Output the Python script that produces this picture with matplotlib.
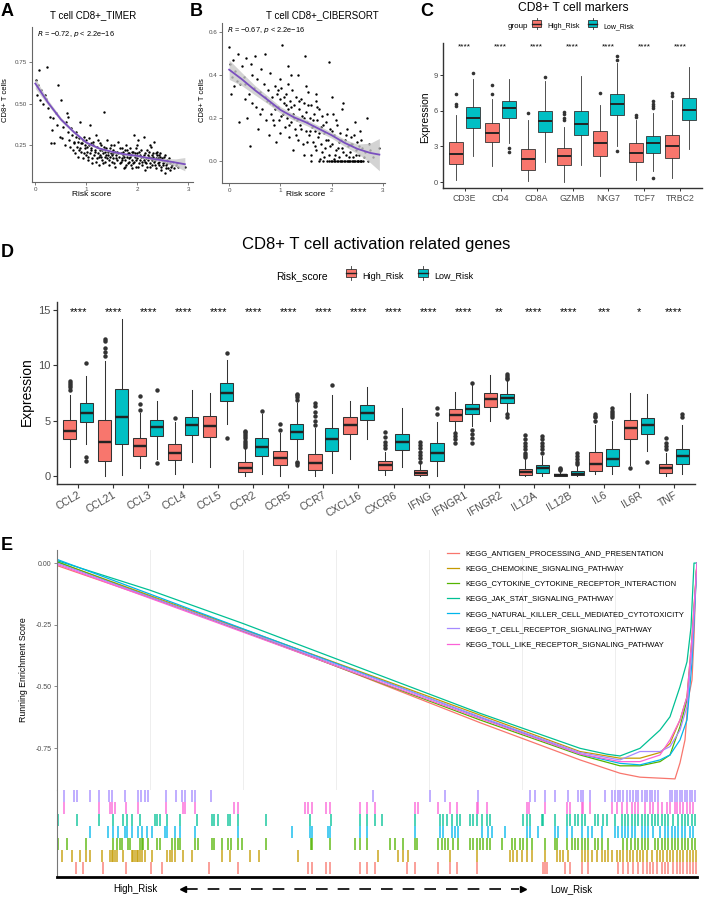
import numpy as np
import matplotlib
matplotlib.use('Agg')
import matplotlib.pyplot as plt
from matplotlib.lines import Line2D
from matplotlib.patches import Rectangle
from matplotlib.legend_handler import HandlerBase

plt.rcParams['font.family'] = ['Liberation Sans', 'DejaVu Sans']
plt.rcParams['axes.unicode_minus'] = False

# ------------------------------------------------------------------ DATA
# Panel A: TIMER CD8+ T cells vs risk score
A_POINTS = [(0.02,0.64),(0.05,0.61),(0.03,0.55),(0.08,0.70),(0.1,0.52),(0.12,0.58),(0.15,0.50),(0.18,0.55),
    (0.22,0.72),(0.2,0.53),(0.25,0.47),(0.28,0.42),(0.3,0.26),(0.33,0.34),(0.35,0.41),(0.37,0.26),(0.4,0.44),
    (0.42,0.37),(0.45,0.61),(0.48,0.30),(0.5,0.52),(0.52,0.29),(0.55,0.36),(0.58,0.25),(0.6,0.39),(0.62,0.44),
    (0.64,0.42),(0.66,0.28),(0.68,0.24),(0.7,0.35),(0.72,0.31),(0.74,0.22),(0.76,0.27),(0.78,0.20),(0.8,0.33),
    (0.82,0.24),(0.84,0.18),(0.86,0.29),(0.88,0.39),(0.9,0.21),(0.92,0.26),(0.94,0.17),(0.95,0.30),(0.97,0.23),
    (0.99,0.19),(1.0,0.28),(1.02,0.21),(1.03,0.16),(1.05,0.25),(1.07,0.37),(1.08,0.20),(1.1,0.23),(1.11,0.14),
    (1.13,0.27),(1.15,0.19),(1.16,0.22),(1.18,0.31),(1.2,0.17),(1.21,0.24),(1.23,0.20),(1.25,0.13),(1.26,0.26),
    (1.28,0.18),(1.3,0.22),(1.31,0.16),(1.33,0.20),(1.34,0.45),(1.35,0.24),(1.37,0.15),(1.38,0.19),(1.4,0.28),
    (1.41,0.17),(1.43,0.21),(1.44,0.13),(1.46,0.23),(1.47,0.18),(1.49,0.20),(1.5,0.15),(1.52,0.22),(1.53,0.17),
    (1.55,0.25),(1.56,0.12),(1.58,0.19),(1.6,0.21),(1.61,0.16),(1.63,0.27),(1.64,0.18),(1.66,0.14),(1.67,0.20),
    (1.69,0.23),(1.7,0.17),(1.72,0.19),(1.73,0.11),(1.75,0.22),(1.76,0.16),(1.78,0.25),(1.79,0.18),(1.81,0.14),
    (1.82,0.20),(1.84,0.17),(1.85,0.23),(1.87,0.13),(1.88,0.19),(1.9,0.16),(1.91,0.21),(1.93,0.31),(1.94,0.15),
    (1.96,0.18),(1.97,0.12),(1.99,0.20),(2.0,0.17),(2.02,0.28),(2.03,0.14),(2.05,0.19),(2.06,0.16),(2.08,0.22),
    (2.09,0.13),(2.11,0.18),(2.12,0.30),(2.14,0.15),(2.15,0.20),(2.17,0.17),(2.18,0.12),(2.2,0.19),(2.21,0.16),
    (2.23,0.21),(2.24,0.14),(2.26,0.17),(2.27,0.24),(2.29,0.13),(2.3,0.18),(2.32,0.15),(2.33,0.27),(2.35,0.16),
    (2.36,0.11),(2.38,0.19),(2.4,0.14),(2.41,0.17),(2.43,0.13),(2.45,0.20),(2.46,0.12),(2.48,0.16),(2.5,0.14),
    (2.52,0.18),(2.54,0.08),(2.56,0.13),(2.58,0.16),(2.6,0.11),(2.63,0.14),(2.66,0.12),(2.7,0.15),(2.75,0.13),
    (2.8,0.12),(2.93,0.12),
    (0.85,0.22),(0.9,0.26),(0.96,0.20),(1.01,0.24),(1.04,0.18),(1.06,0.29),(1.09,0.22),(1.12,0.17),(1.14,0.25),
    (1.17,0.21),(1.19,0.15),(1.22,0.28),(1.24,0.18),(1.27,0.22),(1.29,0.25),(1.32,0.14),(1.36,0.21),(1.39,0.23),
    (1.42,0.19),(1.45,0.16),(1.48,0.25),(1.51,0.19),(1.54,0.14),(1.57,0.21),(1.59,0.17),(1.62,0.20),(1.65,0.23),
    (1.68,0.15),(1.71,0.21),(1.74,0.18),(1.77,0.13),(1.8,0.22),(1.83,0.15),(1.86,0.18),(1.89,0.21),(1.92,0.14),
    (1.95,0.20),(1.98,0.16),(2.01,0.12),(2.04,0.21),(2.07,0.18),(2.1,0.15),(2.13,0.19),(2.16,0.14),(2.19,0.22),
    (2.22,0.18),(2.25,0.12),(2.28,0.16),(2.31,0.20),(2.34,0.13),(2.37,0.17),(2.39,0.21),(2.42,0.15),(2.44,0.18),
    (2.47,0.10),(2.49,0.17),(2.51,0.13),(2.53,0.15),(2.55,0.19),(2.57,0.11),(2.59,0.14),(2.62,0.17),(2.64,0.10),
    (2.68,0.13),(2.72,0.11),(2.78,0.14),(0.65,0.33),(0.75,0.26),(0.79,0.30),(0.83,0.27),(0.87,0.23),(0.93,0.28),
    (0.98,0.25),(1.36,0.18),(1.53,0.20),(1.69,0.16),(1.84,0.20),(1.98,0.23),(2.13,0.16),(2.28,0.19),(2.42,0.19),
    (1.26,0.19),(1.1,0.26),(2.36,0.2),(2.0,0.25),(2.24,0.25),(1.75,0.12),(1.9,0.11),(2.15,0.10)]
A_FIT_X = [0, 0.25, 0.5, 0.75, 1.0, 1.25, 1.5, 1.75, 2.0, 2.25, 2.5, 2.75, 2.93]
A_FIT_Y = [0.62, 0.505, 0.405, 0.33, 0.265, 0.23, 0.21, 0.195, 0.185, 0.17, 0.158, 0.145, 0.135]
A_FIT_SE = [0.03, 0.016, 0.012, 0.01, 0.008, 0.007, 0.007, 0.007, 0.007, 0.008, 0.011, 0.022, 0.04]
A_STAT = "$R$ = \u22120.72, $p$ < 2.2e\u221216"

# Panel B: CIBERSORT CD8+ T cells vs risk score
B_POINTS = [(0.0,0.53),(0.02,0.45),(0.03,0.31),(0.05,0.39),(0.07,0.47),(0.1,0.35),(0.12,0.42),(0.15,0.37),
    (0.18,0.50),(0.2,0.18),(0.22,0.36),(0.25,0.44),(0.28,0.39),(0.3,0.29),(0.33,0.48),(0.35,0.20),(0.38,0.31),
    (0.4,0.07),(0.42,0.45),(0.45,0.27),(0.48,0.34),(0.5,0.49),(0.52,0.25),(0.55,0.38),(0.57,0.15),(0.6,0.32),
    (0.62,0.43),(0.65,0.24),(0.67,0.36),(0.7,0.50),(0.72,0.19),(0.74,0.28),(0.76,0.33),(0.78,0.12),(0.8,0.41),
    (0.82,0.22),(0.84,0.30),(0.86,0.26),(0.88,0.17),(0.9,0.35),(0.92,0.09),(0.94,0.31),(0.95,0.25),(0.97,0.19),
    (0.99,0.29),(1.0,0.13),(1.02,0.34),(1.04,0.54),(1.05,0.22),(1.07,0.27),(1.09,0.16),(1.1,0.31),(1.12,0.20),
    (1.14,0.36),(1.15,0.24),(1.17,0.11),(1.19,0.28),(1.2,0.18),(1.22,0.33),(1.24,0.22),(1.25,0.05),(1.27,0.26),
    (1.29,0.15),(1.3,0.30),(1.32,0.19),(1.34,0.40),(1.35,0.10),(1.37,0.24),(1.39,0.17),(1.4,0.29),(1.42,0.21),
    (1.44,0.08),(1.45,0.27),(1.47,0.49),(1.49,0.14),(1.5,0.23),(1.52,0.18),(1.54,0.32),(1.55,0.12),(1.57,0.20),
    (1.59,0.03),(1.6,0.26),(1.62,0.16),(1.64,0.09),(1.65,0.22),(1.67,0.14),(1.69,0.31),(1.7,0.05),(1.72,0.19),
    (1.74,0.11),(1.75,0.24),(1.77,0.01),(1.79,0.16),(1.8,0.08),(1.82,0.21),(1.84,0.0),(1.85,0.13),(1.87,0.06),
    (1.89,0.18),(1.9,0.0),(1.92,0.10),(1.94,0.46),(1.95,0.03),(1.97,0.15),(1.99,0.0),(2.0,0.08),(2.02,0.22),
    (2.04,0.01),(2.05,0.12),(2.07,0.0),(2.09,0.05),(2.1,0.17),(2.12,0.0),(2.14,0.09),(2.15,0.02),(2.17,0.13),
    (2.19,0.0),(2.2,0.06),(2.22,0.27),(2.24,0.0),(2.25,0.10),(2.27,0.03),(2.29,0.0),(2.3,0.15),(2.32,0.07),
    (2.34,0.0),(2.35,0.04),(2.37,0.11),(2.39,0.0),(2.4,0.08),(2.42,0.02),(2.44,0.0),(2.45,0.18),(2.47,0.05),
    (2.49,0.0),(2.5,0.09),(2.52,0.0),(2.54,0.03),(2.55,0.14),(2.57,0.0),(2.6,0.06),(2.62,0.0),(2.65,0.04),
    (2.68,0.20),(2.7,0.0),(2.75,0.05),(2.8,0.02),(2.93,0.06),(1.95,0.0),(2.0,0.0),(2.05,0.0),(2.1,0.0),
    (2.16,0.0),(2.21,0.0),(2.26,0.0),(2.31,0.0),(2.36,0.0),(2.41,0.0),(2.46,0.0),(2.51,0.0),(2.56,0.0),(2.58,0.0),
    (0.3,0.36),(0.45,0.40),(0.6,0.22),(0.7,0.30),(0.8,0.27),(0.85,0.19),(0.9,0.24),(0.96,0.33),(1.01,0.21),
    (1.06,0.30),(1.11,0.26),(1.16,0.17),(1.21,0.25),(1.26,0.20),(1.31,0.12),(1.36,0.28),(1.41,0.15),(1.46,0.20),
    (1.51,0.09),(1.53,0.26),(1.58,0.14),(1.63,0.19),(1.68,0.07),(1.71,0.25),(1.76,0.13),(1.81,0.04),(1.83,0.17),
    (1.88,0.10),(1.91,0.22),(1.96,0.07),(2.01,0.14),(2.06,0.03),(2.08,0.19),(2.13,0.06),(2.18,0.10),(2.23,0.04),
    (2.28,0.12),(2.33,0.02),(2.38,0.08),(2.43,0.12),(2.48,0.03),(2.53,0.07),(2.58,0.10),(2.63,0.02),(2.72,0.08),
    (1.2,0.40),(1.5,0.35),(1.0,0.38),(1.7,0.28),(2.0,0.30),(2.2,0.24),(1.15,0.44),(1.45,0.03),(1.6,0.0),
    (1.75,0.0),(1.85,0.02)]
B_FIT_X = [0, 0.25, 0.5, 0.75, 1.0, 1.25, 1.5, 1.75, 2.0, 2.25, 2.5, 2.75, 2.93]
B_FIT_Y = [0.425, 0.38, 0.33, 0.285, 0.238, 0.205, 0.18, 0.15, 0.12, 0.085, 0.057, 0.038, 0.03]
B_FIT_SE = [0.045, 0.03, 0.022, 0.018, 0.015, 0.014, 0.014, 0.014, 0.014, 0.016, 0.022, 0.045, 0.075]
B_STAT = "$R$ = \u22120.67, $p$ < 2.2e\u221216"

# Panel C: CD8+ T cell markers (whislo, q1, median, q3, whishi, outliers)
C_GENES = ['CD3E', 'CD4', 'CD8A', 'GZMB', 'NKG7', 'TCF7', 'TRBC2']
C_HIGH = [(0.2, 1.53, 2.35, 3.35, 5.6, [6.4, 6.6, 7.4]),
          (1.33, 3.36, 4.15, 4.95, 7.0, [7.4, 8.2]),
          (0.1, 1.03, 1.9, 2.78, 5.2, [5.8]),
          (0.0, 1.44, 2.2, 2.9, 4.6, [5.2, 5.4, 5.7, 5.9]),
          (0.5, 2.2, 3.3, 4.3, 6.5, [7.5]),
          (0.2, 1.67, 2.45, 3.25, 5.2, [5.5, 5.65]),
          (0.3, 2.0, 3.0, 4.0, 6.9, [7.2, 7.5])]
C_LOW = [(2.2, 4.53, 5.4, 6.35, 8.7, [9.2]),
         (3.3, 5.36, 6.25, 6.86, 8.7, [2.5, 2.9]),
         (1.7, 4.2, 5.1, 6.0, 8.5, [8.85]),
         (1.4, 3.94, 4.9, 6.0, 8.9, []),
         (3.0, 5.6, 6.6, 7.4, 10.0, [2.6, 10.3, 10.6]),
         (0.9, 2.44, 3.25, 3.9, 5.8, [0.3, 6.2, 6.4, 6.6, 6.85]),
         (2.8, 5.2, 6.1, 7.1, 9.7, [])]
C_SIG = ['****'] * 7

# Panel D: CD8+ T cell activation related genes
D_GENES = ['CCL2', 'CCL21', 'CCL3', 'CCL4', 'CCL5', 'CCR2', 'CCR5', 'CCR7', 'CXCL16', 'CXCR6',
           'IFNG', 'IFNGR1', 'IFNGR2', 'IL12A', 'IL12B', 'IL6', 'IL6R', 'TNF']
D_HIGH = [(0.8, 3.37, 4.04, 5.03, 7.3, [7.8, 8.0, 8.2, 8.4, 8.6]),
          (0.0, 1.36, 3.1, 5.03, 10.4, [10.8, 11.2, 11.6, 12.2, 12.4]),
          (0.75, 1.8, 2.7, 3.43, 5.7, [6.0, 6.5, 7.2]),
          (0.15, 1.41, 2.1, 2.92, 4.9, [5.25]),
          (0.8, 3.52, 4.55, 5.4, 7.5, []),
          (0.0, 0.36, 0.7, 1.3, 2.4, [2.6, 2.8, 3.0, 3.2, 3.4, 3.6, 3.8, 4.0, 4.1]),
          (0.0, 0.96, 1.65, 2.26, 3.9, [4.2, 4.7]),
          (0.0, 0.57, 1.2, 2.0, 4.3, [4.6, 5.0, 5.4, 5.8, 6.3, 6.6]),
          (1.5, 3.77, 4.6, 5.33, 6.8, []),
          (0.1, 0.57, 0.96, 1.36, 2.2, [2.5, 2.8, 3.1, 3.5, 4.0]),
          (0.0, 0.06, 0.25, 0.5, 1.1, [1.3, 1.6, 1.9, 2.2, 2.5, 2.8, 3.1]),
          (4.1, 4.97, 5.48, 6.05, 7.6, [3.0, 3.3, 3.6, 3.9]),
          (5.0, 6.23, 6.99, 7.5, 9.1, []),
          (0.0, 0.06, 0.36, 0.66, 1.5, [1.7, 1.9, 2.1, 2.4, 2.7, 3.0, 3.3, 3.7]),
          (0.0, 0.0, 0.1, 0.2, 0.4, [0.5, 0.6, 0.7]),
          (0.2, 0.45, 1.05, 2.2, 4.6, [5.0, 5.3, 5.45, 5.6]),
          (1.0, 3.37, 4.34, 5.09, 7.5, [0.7]),
          (0.0, 0.27, 0.72, 1.05, 2.1, [2.4, 2.7, 3.0, 3.4])]
D_LOW = [(2.9, 4.85, 5.65, 6.6, 9.0, [1.4, 1.7, 10.2]),
         (0.1, 2.86, 5.35, 7.9, 14.2, []),
         (1.5, 3.6, 4.4, 5.03, 6.8, [1.15, 7.8]),
         (1.3, 3.67, 4.6, 5.33, 7.8, []),
         (4.7, 6.75, 7.5, 8.4, 10.5, [3.4, 11.1]),
         (0.2, 1.84, 2.6, 3.43, 5.6, [5.9]),
         (1.5, 3.37, 4.0, 4.73, 6.6, [1.0, 1.15, 1.3, 6.9, 7.1, 7.3, 7.4]),
         (0.3, 2.3, 3.3, 4.37, 7.3, [8.2]),
         (3.37, 5.03, 5.72, 6.39, 8.0, []),
         (0.8, 2.32, 3.07, 3.77, 6.1, []),
         (0.0, 1.36, 2.1, 3.0, 4.9, [5.6, 6.1]),
         (4.5, 5.63, 6.02, 6.48, 8.2, [3.0, 3.4, 3.8, 4.2, 8.4]),
         (5.8, 6.63, 7.05, 7.44, 8.6, [5.3, 5.6, 8.75, 8.9, 9.05, 9.2]),
         (0.0, 0.3, 0.72, 1.02, 1.8, [2.1, 2.4, 2.7, 3.0, 3.3, 3.6]),
         (0.0, 0.06, 0.2, 0.42, 0.9, [1.1, 1.3, 1.5, 1.8, 2.1]),
         (0.2, 0.87, 1.5, 2.4, 5.0, [5.3, 5.5, 5.7, 5.9, 6.1]),
         (2.3, 3.77, 4.64, 5.27, 7.4, [1.3]),
         (0.2, 1.11, 1.78, 2.47, 4.6, [5.3, 5.6])]
D_SIG = ['****'] * 12 + ['**', '****', '****', '***', '*', '****']

# Panel E: GSEA running enrichment scores (rank, ES) and hit ranks
N_GENES = 32000
PATHWAYS = ['KEGG_ANTIGEN_PROCESSING_AND_PRESENTATION', 'KEGG_CHEMOKINE_SIGNALING_PATHWAY',
            'KEGG_CYTOKINE_CYTOKINE_RECEPTOR_INTERACTION', 'KEGG_JAK_STAT_SIGNALING_PATHWAY',
            'KEGG_NATURAL_KILLER_CELL_MEDIATED_CYTOTOXICITY', 'KEGG_T_CELL_RECEPTOR_SIGNALING_PATHWAY',
            'KEGG_TOLL_LIKE_RECEPTOR_SIGNALING_PATHWAY']
ES_ANTIGEN = [(0, -0.01), (4650, -0.14), (9300, -0.27), (21150, -0.647), (26150, -0.798), (28150, -0.852),
              (29150, -0.868), (30150, -0.872), (30900, -0.875), (31150, -0.81), (31400, -0.717),
              (31550, -0.555), (31750, -0.474), (31850, -0.30), (31950, -0.05), (32000, 0.0)]
ES_CHEMOKINE = [(0, 0.005), (21150, -0.616), (26150, -0.764), (28150, -0.791), (29150, -0.791),
                (30150, -0.768), (30650, -0.731), (31150, -0.636), (31500, -0.542), (31750, -0.30), (32000, 0.0)]
ES_CYTOKINE = [(0, 0.005), (21150, -0.636), (26150, -0.778), (28150, -0.822), (29150, -0.822),
               (30150, -0.805), (30650, -0.778), (31150, -0.663), (31500, -0.555), (31750, -0.33), (32000, 0.0)]
ES_JAKSTAT = [(0, 0.01), (4650, -0.11), (9300, -0.245), (21150, -0.609), (26150, -0.751), (27500, -0.775),
              (28150, -0.782), (29150, -0.751), (30150, -0.677), (30650, -0.623), (31150, -0.501),
              (31500, -0.40), (31700, -0.26), (31850, 0.0), (32000, 0.0)]
ES_NK = [(0, 0.015), (21150, -0.625), (26150, -0.774), (28150, -0.812), (29150, -0.818), (30150, -0.798),
         (30650, -0.778), (31150, -0.717), (31500, -0.636), (31750, -0.40), (32000, 0.0)]
ES_TCR = [(0, 0.0), (21150, -0.623), (26150, -0.768), (28150, -0.798), (29150, -0.764), (30150, -0.764),
          (30650, -0.744), (31150, -0.677), (31500, -0.582), (31750, -0.35), (32000, 0.0)]
ES_TOLL = [(0, -0.005), (21150, -0.63), (26150, -0.774), (28150, -0.805), (29150, -0.805), (30150, -0.778),
           (30650, -0.717), (31150, -0.636), (31500, -0.542), (31750, -0.30), (32000, 0.0)]

HITS_ANTIGEN = [950, 1300, 2300, 3450, 4700, 5250, 7600, 9050, 12550, 12750, 13450, 13650, 15150, 15500, 15900,
    17500, 17900, 19050, 19650, 20000, 21000, 24300, 24400, 24500, 25400, 25650, 26250, 26550, 28050, 28300,
    28550, 28800, 29050, 29300, 29500, 29650, 29800, 30000, 30250, 30400, 30550, 30800, 31000, 31150, 31300,
    31500, 31650, 31800, 31950]
HITS_CHEMOKINE = [0, 250, 750, 1150, 1450, 1650, 2250, 2650, 2750, 2800, 2900, 3000, 3300, 3750, 3800, 3900,
    4000, 4050, 4150, 4250, 4400, 4750, 5500, 5650, 5750, 5900, 6300, 6750, 8250, 8650, 9650, 10100, 12050,
    16050, 17050, 17300, 17550, 19650, 21000, 22650, 22800, 23000, 23250, 23500, 23750, 24400, 25000, 25150,
    25300, 25550, 26250, 26400, 26550, 26750, 27000, 27250, 27400, 27550, 27750, 28000, 28150, 28300, 28500,
    28650, 28800, 29000, 29150, 29300, 29500, 29750, 30000, 30150, 30300, 30500, 30650, 30800, 31000, 31150,
    31300, 31500, 31650, 31800, 31950]
HITS_CYTOKINE = [50, 500, 1450, 2800, 3000, 3150, 3250, 3550, 3650, 4150, 4250, 4300, 4550, 5000, 5150, 5750,
    5900, 6050, 6150, 6900, 7050, 7750, 7850, 8250, 8550, 8700, 9050, 9250, 10450, 12700, 12750, 13650, 14900,
    15150, 15500, 16650, 16900, 17300, 17900, 18000, 19050, 19250, 19400, 19550, 19800, 20050, 20650, 20800,
    21000, 21150, 21300, 21500, 21650, 22250, 22750, 22900, 23150, 23300, 23500, 23750, 24400, 24900, 25000,
    25500, 25750, 25900, 26050, 26250, 26400, 26550, 26900, 27050, 27250, 27550, 28300, 28500, 28700, 28900,
    29050, 29250, 29400, 29550, 29900, 30050, 30250, 30400, 30550, 30750, 30900, 31050, 31250, 31400, 31550,
    31750, 31900]
HITS_JAKSTAT = [50, 1000, 2100, 2800, 3300, 3500, 3750, 4150, 4900, 5000, 5150, 5500, 6150, 7000, 7750, 7850,
    8050, 8550, 8650, 9050, 10450, 12650, 13700, 15150, 15500, 15900, 16250, 17900, 19150, 19300, 19500, 19750,
    20000, 20150, 20650, 20800, 21000, 21250, 21500, 21650, 23300, 23500, 23650, 24250, 24300, 24900, 25500,
    25650, 25900, 26050, 26250, 26400, 26900, 27050, 27300, 27500, 27900, 28250, 28400, 28550, 28750, 28900,
    29050, 29250, 29400, 29550, 29750, 29900, 30050, 30250, 30400, 30550, 30800, 31050, 31250, 31400, 31550,
    31750, 31900]
HITS_NK = [0, 1650, 2550, 2800, 3050, 3400, 3500, 3750, 4050, 4250, 4500, 4750, 5400, 5500, 5900, 6150, 6900,
    9050, 11750, 12650, 12750, 13550, 13650, 15150, 15500, 17900, 19150, 19300, 19750, 19900, 20050, 21250,
    21550, 21750, 22400, 23500, 23650, 24050, 24900, 25050, 25500, 25750, 26250, 26550, 26750, 27250, 27900,
    28050, 28250, 28400, 28550, 28750, 28900, 29250, 29400, 29550, 29800, 30150, 30400, 30550, 30750, 30900,
    31050, 31250, 31400, 31650, 31800]
HITS_TCR = [350, 850, 1000, 1650, 2100, 2600, 2750, 3400, 4050, 4200, 4400, 4550, 5450, 5950, 6250, 6400, 6750,
    6900, 7700, 15800, 18650, 19400, 21050, 23650, 23900, 24400, 24900, 25550, 26050, 26200, 26300, 26650,
    27400, 27750, 27900, 28050, 28150, 28300, 28500, 28650, 28800, 28950, 29050, 29250, 29400, 29500, 29650,
    29750, 29900, 30050, 30650, 30750, 30900, 31000, 31150, 31250, 31400, 31500, 31650, 31750, 31900]
HITS_TOLL = [350, 2100, 2650, 2750, 2900, 3450, 4050, 5450, 6300, 6400, 6900, 8850, 9050, 12400, 12550, 12750,
    13450, 13650, 15150, 15500, 15900, 17900, 18050, 19050, 19650, 20000, 21000, 21050, 21500, 23500, 23600,
    24400, 25500, 25650, 26250, 26300, 26650, 27750, 28000, 28250, 28500, 28750, 28900, 29050, 29400, 29650,
    29800, 30050, 30250, 30500, 30650, 30900, 31000, 31150, 31300, 31500, 31650, 31800]

# ------------------------------------------------------------------ STYLE / LAYOUT
RED, TEAL = '#F8766D', '#00BFC4'
PATH_COLORS = ['#F8766D', '#C49A00', '#53B400', '#00C094', '#00B6EB', '#A58AFF', '#FB61D7']
GREY = '#4D4D4D'
W, H = 705, 897
fig = plt.figure(figsize=(W / 100, H / 100), dpi=100)


def add_ax(l, t, r, b):
    return fig.add_axes([l / W, 1 - b / H, (r - l) / W, (b - t) / H])


def ftext(x, y, s, **kw):
    kw.setdefault('va', 'center')
    fig.text(x / W, 1 - y / H, s, **kw)


class BoxKey(HandlerBase):
    def create_artists(self, legend, orig, xd, yd, w, h, fontsize, trans):
        col = orig.get_facecolor()
        x0, x1 = xd + 0.08 * w, xd + 0.92 * w
        arts = [Rectangle((x0, yd), x1 - x0, h, facecolor=col, edgecolor='#333333', lw=0.6, transform=trans),
                Line2D([x0, x1], [yd + h / 2] * 2, color='#222222', lw=1.0, transform=trans),
                Line2D([xd + w / 2] * 2, [yd + h, yd + h * 1.3], color='#333333', lw=0.6, transform=trans),
                Line2D([xd + w / 2] * 2, [yd, yd - h * 0.3], color='#333333', lw=0.6, transform=trans)]
        return arts


def scatter_panel(ax, pts, fx, fy, fse, stat, xlim, ylim, yticks, ylabels):
    x = [p[0] for p in pts]
    y = [p[1] for p in pts]
    ax.scatter(x, y, s=3.0, color='black', linewidths=0, zorder=2)
    fx, fy, fse = np.array(fx), np.array(fy), np.array(fse)
    ax.fill_between(fx, fy - fse, fy + fse, color='#C8C8C8', alpha=0.8, lw=0, zorder=3)
    ax.plot(fx, fy, color='#7A4FBF', lw=1.3, zorder=4)
    ax.set_xlim(*xlim)
    ax.set_ylim(*ylim)
    ax.set_xticks([0, 1, 2, 3])
    ax.set_yticks(yticks)
    ax.set_yticklabels(ylabels)
    for s in ['top', 'right']:
        ax.spines[s].set_visible(False)
    for s in ['left', 'bottom']:
        ax.spines[s].set_color('#666666')
        ax.spines[s].set_linewidth(0.8)
    ax.tick_params(labelsize=4.5, labelcolor=GREY, color='#666666', length=2, width=0.6, pad=1.5)
    ax.text(0.03, 0.955, stat, transform=ax.transAxes, fontsize=5.3, ha='left', va='center')


def box_panel(ax, genes, high, low, ms, lw):
    n = len(genes)
    for stats, off, col in ((high, -0.24, RED), (low, 0.24, TEAL)):
        st = [dict(whislo=s[0], q1=s[1], med=s[2], q3=s[3], whishi=s[4], fliers=s[5]) for s in stats]
        ax.bxp(st, positions=np.arange(n) + off, widths=0.38, patch_artist=True, showcaps=False,
               boxprops=dict(facecolor=col, edgecolor='#333333', linewidth=lw),
               medianprops=dict(color='#222222', linewidth=lw * 2.3),
               whiskerprops=dict(color='#333333', linewidth=lw),
               flierprops=dict(marker='o', markerfacecolor='#333333', markeredgecolor='none', markersize=ms),
               manage_ticks=False)
    ax.set_xlim(-0.6, n - 0.4)
    ax.set_xticks(np.arange(n))
    ax.set_xticklabels(genes)
    for s in ['top', 'right']:
        ax.spines[s].set_visible(False)
    for s in ['left', 'bottom']:
        ax.spines[s].set_color('#333333')
        ax.spines[s].set_linewidth(1.0)


# ------------------------------------------------------------------ PANEL A
axA = add_ax(32, 27, 193, 182)
scatter_panel(axA, A_POINTS, A_FIT_X, A_FIT_Y, A_FIT_SE, A_STAT, (-0.065, 3.09), (0.028, 0.96),
              [0.25, 0.5, 0.75], ['0.25', '0.50', '0.75'])
ftext(93, 15, 'T cell CD8+_TIMER', fontsize=7, ha='center')
ftext(92, 195, 'Risk score', fontsize=6, ha='center')
ftext(6, 100, 'CD8+ T cells', fontsize=5.5, ha='center', rotation=90)
ftext(1, 12, 'A', fontsize=13, fontweight='bold', ha='left')

# ------------------------------------------------------------------ PANEL B
axB = add_ax(222, 23, 385, 183)
scatter_panel(axB, B_POINTS, B_FIT_X, B_FIT_Y, B_FIT_SE, B_STAT, (-0.14, 3.04), (-0.102, 0.642),
              [0.0, 0.2, 0.4, 0.6], ['0.0', '0.2', '0.4', '0.6'])
ftext(322, 15, 'T cell CD8+_CIBERSORT', fontsize=7, ha='center')
ftext(306, 195, 'Risk score', fontsize=6, ha='center')
ftext(202, 100, 'CD8+ T cells', fontsize=5.5, ha='center', rotation=90)
ftext(190, 12, 'B', fontsize=13, fontweight='bold', ha='left')

# ------------------------------------------------------------------ PANEL C
axC = add_ax(443, 43, 702, 188)
box_panel(axC, C_GENES, C_HIGH, C_LOW, ms=2.6, lw=0.6)
axC.set_ylim(-0.5, 11.7)
axC.set_yticks([0, 3, 6, 9])
axC.tick_params(axis='y', labelsize=5.5, labelcolor=GREY, color='#333333', length=2.5, width=0.7, pad=1.5)
axC.tick_params(axis='x', labelsize=6.3, labelcolor=GREY, color='#333333', length=2.5, width=0.7, pad=1.5)
for i, s in enumerate(C_SIG):
    axC.text(i, 11.4, s, ha='center', va='center', fontsize=6)
ftext(573, 8, 'CD8+ T cell markers', fontsize=8.7, ha='center')
ftext(425, 117, 'Expression', fontsize=7.5, ha='center', rotation=90)
ftext(420, 12, 'C', fontsize=13, fontweight='bold', ha='left')
ftext(508, 26, 'group', fontsize=5.8, ha='left')
handles = [Rectangle((0, 0), 1, 1, facecolor=RED), Rectangle((0, 0), 1, 1, facecolor=TEAL)]
fig.legend(handles, ['High_Risk', 'Low_Risk'], handler_map={Rectangle: BoxKey()}, loc='center left',
           bbox_to_anchor=(531 / W, 1 - 26 / H), ncol=2, frameon=False, fontsize=5,
           handlelength=1.6, handleheight=1.1, handletextpad=0.8, columnspacing=1.0,
           borderpad=0, borderaxespad=0)

# ------------------------------------------------------------------ PANEL D
axD = add_ax(57, 302, 695, 484)
box_panel(axD, D_GENES, D_HIGH, D_LOW, ms=3.2, lw=0.75)
axD.set_ylim(-0.72, 15.72)
axD.set_yticks([0, 5, 10, 15])
axD.tick_params(axis='y', labelsize=8, labelcolor=GREY, color='#333333', length=3, width=0.8, pad=1.5)
axD.tick_params(axis='x', labelsize=7.5, labelcolor=GREY, color='#333333', length=3, width=0.8, pad=1.5)
for lab in axD.get_xticklabels():
    lab.set_rotation(30)
    lab.set_ha('right')
    lab.set_rotation_mode('anchor')
for i, s in enumerate(D_SIG):
    axD.text(i, 14.8, s, ha='center', va='center', fontsize=8)
ftext(376, 244, 'CD8+ T cell activation related genes', fontsize=12, ha='center')
ftext(27, 392, 'Expression', fontsize=10, ha='center', rotation=90)
ftext(1, 252, 'D', fontsize=13, fontweight='bold', ha='left')
ftext(276, 276, 'Risk_score', fontsize=7.5, ha='left')
fig.legend(handles, ['High_Risk', 'Low_Risk'], handler_map={Rectangle: BoxKey()}, loc='center left',
           bbox_to_anchor=(345 / W, 1 - 276 / H), ncol=2, frameon=False, fontsize=6.5,
           handlelength=1.35, handleheight=1.1, handletextpad=0.6, columnspacing=1.4,
           borderpad=0, borderaxespad=0)

# ------------------------------------------------------------------ PANEL E
axE = add_ax(57, 550, 697, 790)
curves = [ES_ANTIGEN, ES_CHEMOKINE, ES_CYTOKINE, ES_JAKSTAT, ES_NK, ES_TCR, ES_TOLL]
for k in range(1, 7):
    axE.axvline(4650 * k, color='#EBEBEB', lw=0.6, zorder=0)
for name, cur, col in zip(PATHWAYS, curves, PATH_COLORS):
    axE.plot([p[0] for p in cur], [p[1] for p in cur], color=col, lw=0.9, label=name)
axE.set_xlim(0, N_GENES)
axE.set_ylim(-0.92, 0.053)
axE.set_xticks([])
axE.set_yticks([0, -0.25, -0.5, -0.75])
axE.set_yticklabels(['0.00', '-0.25', '-0.50', '-0.75'])
axE.tick_params(axis='y', labelsize=5, labelcolor=GREY, color='#777777', length=2.5, width=0.6, pad=1.5)
for s in ['top', 'right', 'bottom']:
    axE.spines[s].set_visible(False)
axE.spines['left'].set_color('#777777')
axE.spines['left'].set_linewidth(0.8)
axE.legend(loc='upper left', bbox_to_anchor=(447 / W, 1 - 550 / H), bbox_transform=fig.transFigure,
           frameon=False, fontsize=5.5, handlelength=1.6, handletextpad=0.8, labelspacing=1.02,
           borderpad=0, borderaxespad=0)
ftext(24, 670, 'Running Enrichment Score', fontsize=6.3, ha='center', rotation=90)
ftext(1, 545, 'E', fontsize=13, fontweight='bold', ha='left')

axR = add_ax(57, 790, 697, 877)
hits = [HITS_ANTIGEN, HITS_CHEMOKINE, HITS_CYTOKINE, HITS_NK, HITS_JAKSTAT, HITS_TOLL, HITS_TCR]
hit_cols = [PATH_COLORS[0], PATH_COLORS[1], PATH_COLORS[2], PATH_COLORS[4], PATH_COLORS[3],
            PATH_COLORS[6], PATH_COLORS[5]]
for row, (h, col) in enumerate(zip(hits, hit_cols)):
    axR.vlines(h, row + 0.03, row + 0.97, color=col, lw=1.15, alpha=0.85)
axR.set_xlim(0, N_GENES)
axR.set_ylim(-0.25, 7.0)
axR.set_xticks([])
axR.set_yticks([])
for s in ['top', 'right']:
    axR.spines[s].set_visible(False)
axR.spines['left'].set_color('#777777')
axR.spines['left'].set_linewidth(0.8)
axR.spines['bottom'].set_color('black')
axR.spines['bottom'].set_linewidth(2.0)

ftext(113, 889, 'High_Risk', fontsize=7, ha='left')
ftext(550, 889, 'Low_Risk', fontsize=7, ha='left')
fig.add_artist(Line2D([186 / W, 519 / W], [1 - 889 / H] * 2, transform=fig.transFigure, color='black',
                      lw=1.2, dashes=(7, 6)))
fig.add_artist(Line2D([183 / W], [1 - 889 / H], transform=fig.transFigure, marker='<', color='black',
                      markersize=5, lw=0))
fig.add_artist(Line2D([523 / W], [1 - 889 / H], transform=fig.transFigure, marker='>', color='black',
                      markersize=5, lw=0))

fig.savefig('out.png', dpi=100)
